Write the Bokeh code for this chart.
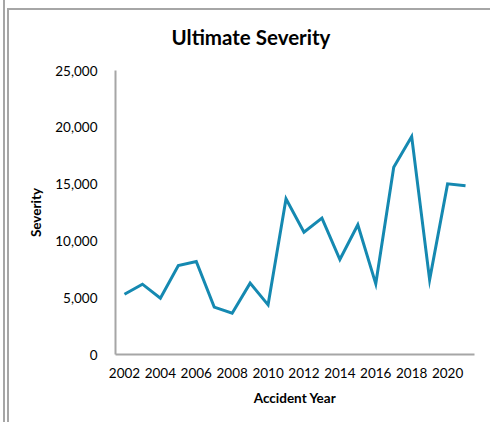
from bokeh.plotting import figure
from bokeh.models import Range1d, NumeralTickFormatter, FixedTicker, InlineStyleSheet
from bokeh.embed import file_html
from bokeh.resources import INLINE

# Ultimate severity by accident year
years = list(range(2002, 2022))
severity = [5300, 6190, 4960, 7830, 8190, 4170, 3640, 6280, 4370, 13700,
            10770, 12000, 8360, 11420, 6220, 16490, 19190, 6570, 15020, 14850]
x_ticks = [2002, 2004, 2006, 2008, 2010, 2012, 2014, 2016, 2018, 2020]
y_ticks = [0, 5000, 10000, 15000, 20000, 25000]

FONT = "Lato"
GRID = "#a6a6a6"
LINE = "#1589b1"

# Thin frame lines along the top and left edges of the chart
frame_css = InlineStyleSheet(css=f"""
:host {{ position: relative; }}
:host::before {{
  content: ""; position: absolute; left: 7px; top: 8px; right: 0; bottom: 0;
  border-left: 2px solid {GRID}; border-top: 2px solid {GRID};
  pointer-events: none; z-index: 10;
}}
:host::after {{
  content: ""; position: absolute; left: 3px; top: 0; bottom: 0; width: 0;
  border-left: 2px solid {GRID};
  pointer-events: none; z-index: 10;
}}
""")

p = figure(width=490, height=422, x_range=Range1d(2001.5, 2021.5),
           y_range=Range1d(0, 25000), output_backend="svg", toolbar_location=None,
           min_border_left=115, min_border_right=16, min_border_top=70, min_border_bottom=68,
           stylesheets=[frame_css])

p.title.text = "Ultimate Severity"
p.title.align = "left"
p.title.vertical_align = "top"
p.title.offset = 56
p.title.standoff = 39
p.title.text_font = FONT
p.title.text_font_style = "bold"
p.title.text_font_size = "20.5px"
p.title.text_color = "#000000"

p.line(years, severity, line_color=LINE, line_width=3, line_join="miter")

p.outline_line_color = None
p.xgrid.grid_line_color = None
p.ygrid.grid_line_color = None

for ax in (p.xaxis[0], p.yaxis[0]):
    ax.axis_line_color = GRID
    ax.axis_line_width = 2
    ax.major_tick_line_color = None
    ax.minor_tick_line_color = None
    ax.major_label_text_font = FONT
    ax.major_label_text_font_size = "13.5px"
    ax.major_label_text_color = "#000000"
    ax.axis_label_text_font = FONT
    ax.axis_label_text_font_style = "bold"
    ax.axis_label_text_font_size = "13.5px"
    ax.axis_label_text_color = "#000000"

p.yaxis.ticker = FixedTicker(ticks=y_ticks)
p.yaxis.formatter = NumeralTickFormatter(format="0,0")
p.yaxis.major_label_standoff = 12
p.yaxis.axis_label = "Severity"
p.yaxis.axis_label_standoff = 8

p.xaxis.ticker = FixedTicker(ticks=x_ticks)
p.xaxis.major_label_standoff = 7
p.xaxis.axis_label = "Accident Year"
p.xaxis.axis_label_standoff = 9

open("out.html", "w").write(file_html(p, INLINE))
